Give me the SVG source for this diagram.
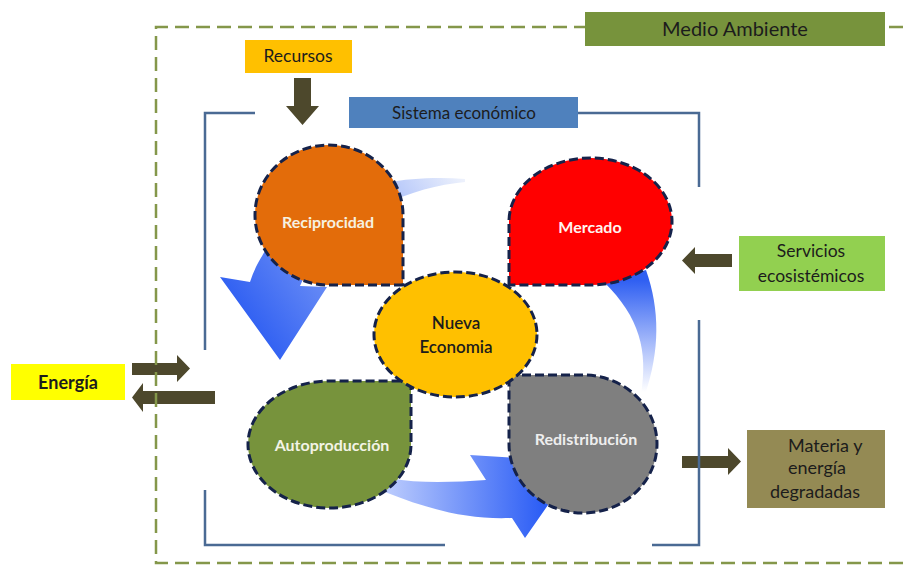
<svg xmlns="http://www.w3.org/2000/svg" width="903" height="566" viewBox="0 0 903 566">
<style>
  .lbl { font-family: Lato, "Liberation Sans", sans-serif; fill: #1c1c1c; }
  .nlbl { font-family: Lato, "Liberation Sans", sans-serif; font-weight: bold; font-size: 16px; text-anchor: middle; }
  .node { stroke: #15224a; stroke-width: 3; stroke-dasharray: 9 4; }
  .darr { fill: #4d482c; }
  .frame { fill: none; stroke: #4a6a94; stroke-width: 2.5; }
  .outer { fill: none; stroke: #84974a; stroke-width: 2.5; stroke-dasharray: 14 7; }
</style>
<defs>
  <linearGradient id="gA" gradientUnits="userSpaceOnUse" x1="465" y1="180" x2="250" y2="330">
    <stop offset="0" stop-color="#eef2fc"/>
    <stop offset="0.4" stop-color="#93adf8"/>
    <stop offset="1" stop-color="#2f5ff2"/>
  </linearGradient>
  <linearGradient id="gB" gradientUnits="userSpaceOnUse" x1="0" y1="280" x2="0" y2="392">
    <stop offset="0" stop-color="#2f5ff2"/>
    <stop offset="0.55" stop-color="#a3b8fa"/>
    <stop offset="1" stop-color="#ffffff"/>
  </linearGradient>
  <linearGradient id="gC" gradientUnits="userSpaceOnUse" x1="390" y1="0" x2="545" y2="0">
    <stop offset="0" stop-color="#b8c9fd"/>
    <stop offset="1" stop-color="#2a5cf5"/>
  </linearGradient>
</defs>
<rect width="903" height="566" fill="#ffffff"/>

<g id="connectors">
  <!-- cycle arrows -->
  <path id="cyc-top" fill="url(#gA)" d="M 465,179 C 370,172 275,205 250,282 L 220,277 L 280,360 L 327,287 L 300,286 C 325,225 400,188 465,182 Z"/>
  <path id="cyc-right" fill="url(#gB)" d="M 604,282 L 646,270 C 660,310 660,350 645,395 L 641,395 C 648,350 640,318 604,282 Z"/>
  <path id="cyc-bottom" fill="url(#gC)" d="M 390,478 C 420,484 455,482 486,480 L 470,455 L 578,462 L 525,538 L 512,518 C 470,520 430,510 385,492 Z"/>
  <!-- flow arrows -->
  <polygon id="arr-recursos" class="darr" points="294,78 311,78 311,106 319,106 302.5,125 286,106 294,106"/>
  <polygon id="arr-energia-in" class="darr" points="132,363 177,363 177,355 190,368.5 177,382 177,375 132,375"/>
  <polygon id="arr-energia-out" class="darr" points="215,391 143,391 143,383 132,397.5 143,412 143,404 215,404"/>
  <polygon id="arr-servicios" class="darr" points="732,254 695,254 695,247 682,260.5 695,274 695,267 732,267"/>
  <polygon id="arr-materia" class="darr" points="682,456 728,456 728,448 741,461.5 728,475 728,468 682,468"/>
</g>

<g id="frames">
  <path class="outer" d="M 903,27 H 156 V 563 H 903"/>
  <path class="frame" d="M 255,113 H 205 V 350"/>
  <path class="frame" d="M 205,490 V 545 H 445"/>
  <path class="frame" d="M 652,545 H 699 V 320"/>
  <path class="frame" d="M 578,113 H 699 V 187"/>
</g>

<g id="node-medio">
  <rect x="585" y="12" width="300" height="34" fill="#77933c"/>
  <text class="lbl" x="735" y="36" font-size="20" text-anchor="middle">Medio Ambiente</text>
</g>
<g id="node-recursos">
  <rect x="245" y="40" width="107" height="33" fill="#ffc000"/>
  <text class="lbl" x="298" y="62" font-size="17.5" text-anchor="middle">Recursos</text>
</g>
<g id="node-sistema">
  <rect x="349" y="97" width="229" height="31" fill="#4f81bd"/>
  <text class="lbl" x="464" y="118.5" font-size="17" text-anchor="middle">Sistema económico</text>
</g>
<g id="node-energia">
  <rect x="11" y="364" width="114" height="36" fill="#ffff00"/>
  <text class="lbl" x="68" y="388.5" font-size="18" font-weight="bold" text-anchor="middle">Energía</text>
</g>
<g id="node-servicios">
  <rect x="739" y="236" width="146" height="55" fill="#92d050"/>
  <text class="lbl" x="811" y="257" font-size="17.5" text-anchor="middle">Servicios</text>
  <text class="lbl" x="811" y="282" font-size="17.5" text-anchor="middle">ecosistémicos</text>
</g>
<g id="node-materia">
  <rect x="747" y="430" width="138" height="78" fill="#948a54"/>
  <text class="lbl" x="788" y="452" font-size="18">Materia y</text>
  <text class="lbl" x="788" y="474" font-size="18">energía</text>
  <text class="lbl" x="815" y="498" font-size="18" text-anchor="middle">degradadas</text>
</g>

<g id="node-reciprocidad">
  <path class="node" fill="#e36c0a" d="M 403,285 H 329 A 74 70 0 0 1 255 215 A 74 70 0 0 1 329 145 A 74 70 0 0 1 403 215 Z"/>
  <text class="nlbl" x="328" y="228" fill="#f6f1e0">Reciprocidad</text>
</g>
<g id="node-mercado">
  <path class="node" fill="#ff0000" d="M 509,285 V 221.5 A 81.5 63.5 0 0 1 590.5 158 A 81.5 63.5 0 0 1 672 221.5 A 81.5 63.5 0 0 1 590.5 285 Z"/>
  <text class="nlbl" x="590" y="233" fill="#fff4f0">Mercado</text>
</g>
<g id="node-autoproduccion">
  <path class="node" fill="#77933c" d="M 411,381 V 444.5 A 81.5 63.5 0 0 1 329.5 508 A 81.5 63.5 0 0 1 248 444.5 A 81.5 63.5 0 0 1 329.5 381 Z"/>
  <text class="nlbl" x="332" y="451" fill="#f3f3e6">Autoproducción</text>
</g>
<g id="node-redistribucion">
  <path class="node" fill="#7f7f7f" d="M 509,375 H 583 A 74 69 0 0 1 657 444 A 74 69 0 0 1 583 513 A 74 69 0 0 1 509 444 Z"/>
  <text class="nlbl" x="586" y="445" fill="#eeeeee">Redistribución</text>
</g>
<g id="node-nueva">
  <ellipse class="node" cx="455.5" cy="334.5" rx="81.5" ry="62.5" fill="#ffc000"/>
  <text class="lbl" x="456" y="329" font-size="17" font-weight="600" text-anchor="middle">Nueva</text>
  <text class="lbl" x="456" y="353" font-size="17" font-weight="600" text-anchor="middle">Economia</text>
</g>
</svg>
